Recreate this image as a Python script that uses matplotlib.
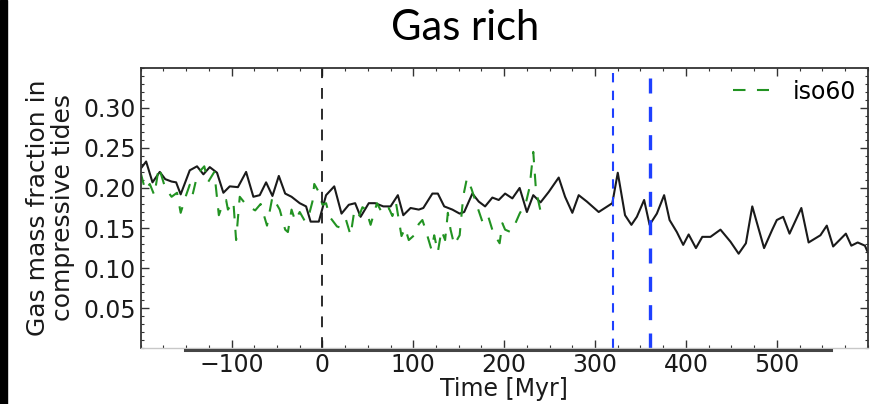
import numpy as np
import matplotlib
matplotlib.use('Agg')
import matplotlib.pyplot as plt
from matplotlib.ticker import MultipleLocator
from matplotlib.patches import Rectangle
from matplotlib.lines import Line2D

plt.rcParams['font.family'] = ['DejaVu Sans']

# fiducial run (solid black)
t_fid = [-200, -194, -187, -179, -173, -166, -161, -156, -146, -138, -131, -124, -116, -109,
         -102, -93, -84, -76, -69, -62, -55, -48, -41, -34, -25, -18, -13, -4, 4, 13, 21, 29,
         36, 42, 51, 58, 67, 75, 83, 89, 97, 106, 111, 121, 127, 134, 143, 151, 156, 165,
         172, 179, 187, 194, 201, 209, 217, 225, 232, 240, 249, 260, 267, 275, 282, 291,
         304, 319, 325, 333, 340, 346, 354, 360, 368, 376, 382, 390, 397, 403, 411, 418,
         427, 438, 449, 458, 466, 473, 486, 495, 500, 507, 514, 527, 535, 548, 555, 562,
         576, 582, 589, 597, 600]
f_fid = [0.224, 0.233, 0.207, 0.220, 0.211, 0.208, 0.207, 0.192, 0.222, 0.227, 0.217, 0.226,
         0.219, 0.194, 0.202, 0.201, 0.220, 0.189, 0.191, 0.207, 0.190, 0.215, 0.193, 0.189,
         0.181, 0.177, 0.158, 0.158, 0.191, 0.202, 0.168, 0.179, 0.181, 0.164, 0.181, 0.181,
         0.177, 0.177, 0.191, 0.166, 0.175, 0.173, 0.175, 0.193, 0.193, 0.177, 0.173, 0.168,
         0.170, 0.193, 0.183, 0.177, 0.188, 0.185, 0.193, 0.187, 0.200, 0.170, 0.191, 0.182,
         0.195, 0.213, 0.189, 0.169, 0.191, 0.183, 0.170, 0.181, 0.219, 0.166, 0.154, 0.164,
         0.185, 0.154, 0.168, 0.191, 0.160, 0.145, 0.129, 0.142, 0.125, 0.139, 0.139, 0.148,
         0.133, 0.118, 0.131, 0.177, 0.125, 0.148, 0.160, 0.164, 0.143, 0.175, 0.132, 0.141,
         0.153, 0.127, 0.143, 0.128, 0.132, 0.128, 0.120]

# iso60 run (green dashed)
t_iso = [-200, -195, -190, -185, -180, -173, -166, -160, -156, -150, -146, -143, -139, -134,
         -130, -126, -119, -114, -110, -106, -104, -98, -95, -91, -86, -80, -74, -68, -61,
         -55, -47, -41, -38, -34, -30, -25, -19, -14, -11, -9, -4, 0, 4, 8, 16, 21, 26, 31,
         35, 40, 44, 48, 53, 60, 66, 73, 77, 81, 87, 91, 95, 101, 106, 110, 114, 120, 123,
         127, 131, 135, 138, 141, 145, 151, 155, 159, 164, 170, 176, 182, 188, 195, 198,
         201, 207, 212, 217, 224, 228, 232, 235, 241]
f_iso = [0.219, 0.197, 0.205, 0.191, 0.226, 0.200, 0.189, 0.194, 0.169, 0.191, 0.204, 0.191,
         0.210, 0.222, 0.227, 0.207, 0.220, 0.166, 0.179, 0.185, 0.173, 0.183, 0.135, 0.189,
         0.182, 0.176, 0.172, 0.180, 0.153, 0.189, 0.173, 0.148, 0.145, 0.173, 0.159, 0.170,
         0.158, 0.170, 0.183, 0.205, 0.195, 0.179, 0.181, 0.164, 0.152, 0.150, 0.160, 0.141,
         0.171, 0.164, 0.176, 0.173, 0.154, 0.181, 0.168, 0.175, 0.165, 0.181, 0.140, 0.150,
         0.135, 0.141, 0.155, 0.160, 0.146, 0.123, 0.141, 0.120, 0.147, 0.135, 0.169, 0.148,
         0.129, 0.141, 0.190, 0.212, 0.199, 0.178, 0.158, 0.166, 0.144, 0.131, 0.156, 0.148,
         0.145, 0.155, 0.168, 0.182, 0.201, 0.245, 0.197, 0.166]

t_pericentre = 0
t_blue = [320, 360]
blue_lw = [1.5, 2.4]

xticks = [-100, 0, 100, 200, 300, 400, 500]
yticks = [0.05, 0.10, 0.15, 0.20, 0.25, 0.30]

fs = 17

fig = plt.figure(figsize=(8.76, 4.04), dpi=100)
ax = fig.add_axes([0.1606, 0.1379, 0.8299, 0.6945])

ax.plot(t_fid, f_fid, color='#1a1a1a', lw=1.5)
ax.plot(t_iso, f_iso, color='#229322', lw=1.5, dashes=(6, 5.5), label='iso60')
ax.axvline(t_pericentre, color='#1a1a1a', lw=1.3, dashes=(6, 5.5))
for tb, lw in zip(t_blue, blue_lw):
  ax.axvline(tb, color='#1e40ff', lw=lw, dashes=(4.5, 4))

ax.set_xlim(-200, 600)
ax.set_ylim(0.0, 0.35)
ax.set_xticks(xticks)
ax.set_yticks(yticks)
ax.set_yticklabels(['{:.2f}'.format(v) for v in yticks])
ax.xaxis.set_minor_locator(MultipleLocator(25))
ax.yaxis.set_minor_locator(MultipleLocator(0.01))
ax.tick_params(which='both', direction='in', top=True, right=True, colors='#333333',
               labelcolor='#1a1a1a', labelsize=fs)
ax.tick_params(which='major', length=5.5, width=1)
ax.tick_params(which='minor', length=2.5, width=0.8)
for side in ['left', 'top', 'right']:
  ax.spines[side].set_color('#333333')
  ax.spines[side].set_linewidth(1.3)
ax.spines['bottom'].set_color('#c8c8c8')
ax.spines['bottom'].set_linewidth(1.0)

ax.set_xlabel('Time [Myr]', fontsize=fs, color='#1a1a1a', labelpad=0)
ax.set_ylabel('Gas mass fraction in\ncompressive tides', fontsize=18, color='#1a1a1a',
              labelpad=6, linespacing=1.05)

ax.legend(loc='upper right', frameon=False, fontsize=fs, handlelength=1.5,
          handletextpad=1.0, borderaxespad=0.1)

fig.text(465 / 876, 1 - 28 / 404, 'Gas rich', family='Lato', fontsize=30,
         ha='center', va='center', color='black')

# slide decorations: black edge strip and the grey rule under the axes
fig.patches.append(Rectangle((0, 0), 7 / 876, 1, transform=fig.transFigure,
                             color='black', zorder=5))
fig.lines.append(Line2D([185 / 876, 831 / 876], [1 - 349.5 / 404] * 2,
                        transform=fig.transFigure, color='#454545', lw=2.2, zorder=5))

fig.savefig('out.png', dpi=100)
